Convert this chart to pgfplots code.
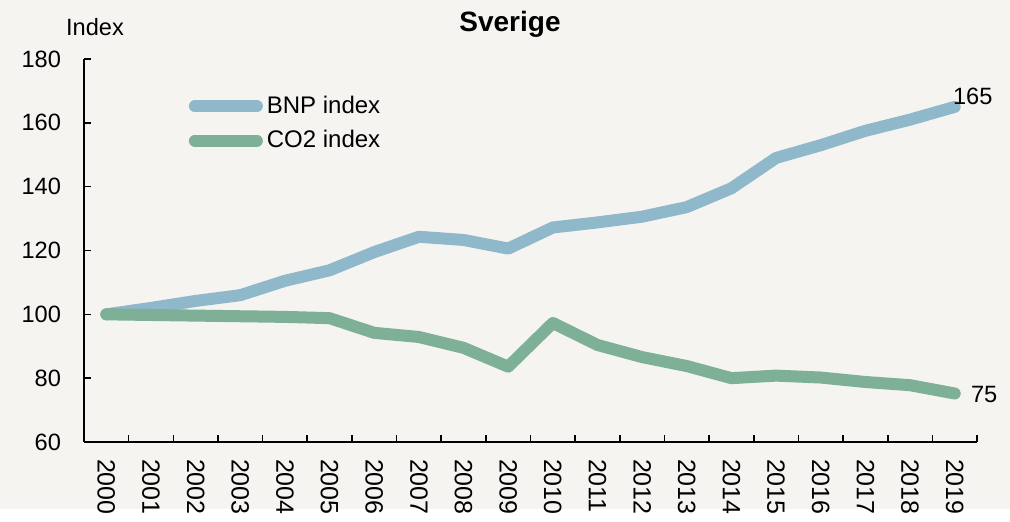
\documentclass[border=0pt]{standalone}
\usepackage{fontspec}
\setmainfont{Liberation Sans}
\usepackage{pgfplots}
\pgfplotsset{compat=1.18}
\usetikzlibrary{calc,backgrounds}
\definecolor{bg}{RGB}{245,244,240}
\definecolor{bnp}{RGB}{143,184,203}
\definecolor{co}{RGB}{125,176,150}

\begin{document}
\begin{tikzpicture}
\begin{axis}[name=ax, scale only axis, width=446.5pt, height=191.5pt,
  xmin=-0.5, xmax=19.5, ymin=60, ymax=180,
  ytick={60,80,...,180},
  xtick={-0.5,0.5,...,19.5}, x tick label as interval,
  xticklabels={2000,2001,2002,2003,2004,2005,2006,2007,2008,2009,2010,2011,2012,2013,2014,2015,2016,2017,2018,2019},
  xticklabel style={yshift=-5pt, rotate=-90, anchor=west, font=\fontsize{12.5}{14}\selectfont},
  yticklabel style={xshift=-8pt, font=\fontsize{11.8}{13}\selectfont},
  axis lines=left, axis line style={-, black, line width=0.8pt},
  tick align=inside, major tick length=3.5pt,
  tick style={black, line width=0.8pt},
  /pgf/number format/assume math mode=true,
  legend style={draw=none, fill=none, at={(0.117,0.915)}, anchor=north west,
    font=\fontsize{12}{14}\selectfont, row sep=3pt, inner sep=0pt},
  legend cell align=left,
  legend image code/.code={\path (0pt,0pt) -- (31pt,0pt);
    \draw[#1, line width=4.5pt, line cap=round] (0pt,0pt) -- (25.5pt,0pt);},
  every axis plot/.append style={line width=6pt, line cap=round, line join=round},
  clip=false]
\addplot[bnp] coordinates {(0,100)(1,102)(2,104.2)(3,106)(4,110.5)(5,113.8)(6,119.5)(7,124.3)(8,123.3)(9,120.6)(10,127.2)(11,128.8)(12,130.6)(13,133.6)(14,139.5)(15,149)(16,153)(17,157.5)(18,161)(19,165)};
\addlegendentry{BNP index}
\addplot[co] coordinates {(0,100)(1,99.8)(2,99.6)(3,99.4)(4,99.2)(5,98.8)(6,94.2)(7,92.9)(8,89.5)(9,83.6)(10,97.3)(11,90.4)(12,86.6)(13,83.8)(14,80)(15,80.8)(16,80.2)(17,78.8)(18,77.8)(19,75.2)};
\addlegendentry{CO2 index}
\node[anchor=south west, inner sep=1pt, font=\fontsize{11.8}{13}\selectfont] at (axis cs:19,165) [xshift=-2pt] {165};
\node[anchor=west, inner sep=1pt, font=\fontsize{11.8}{13}\selectfont] at (axis cs:19,75) [xshift=7pt] {75};
\end{axis}
\node[font=\fontsize{11.8}{13}\selectfont] at ($(ax.south west)+(5.5pt,207.5pt)$) {Index};
\node[font=\bfseries\fontsize{14}{16}\selectfont] at ($(ax.south west)+(213pt,209pt)$) {Sverige};
\begin{scope}[on background layer]
\fill[bg] ($(ax.south west)+(-42pt,-33.5pt)$) rectangle ($(ax.north east)+(16.5pt,29.5pt)$);
\end{scope}
\path[use as bounding box] ($(ax.south west)+(-42pt,-33.5pt)$) rectangle ($(ax.north east)+(16.5pt,29.5pt)$);
\end{tikzpicture}
\end{document}
